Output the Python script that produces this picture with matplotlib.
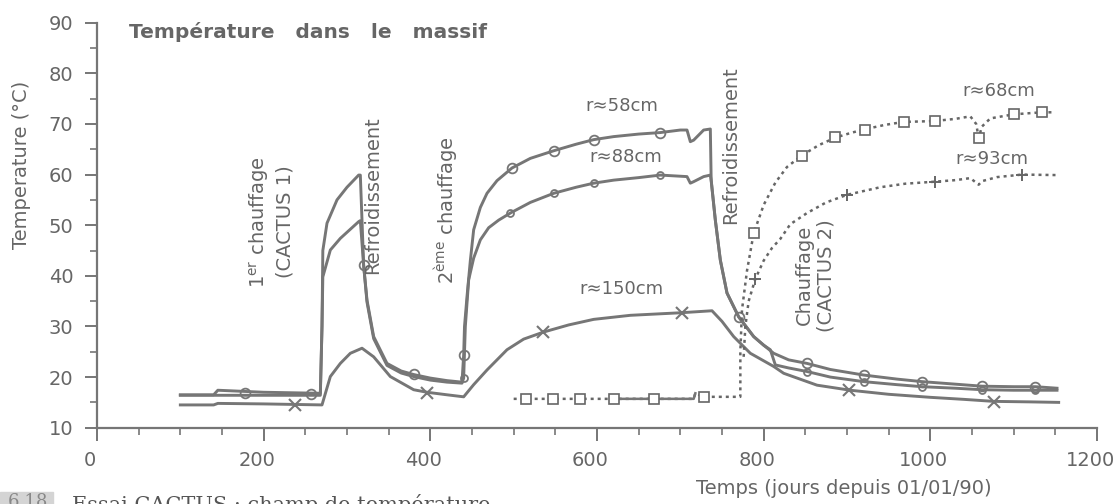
import matplotlib
matplotlib.use("Agg")
from matplotlib import pyplot as plt
from matplotlib.patches import Rectangle
from matplotlib.ticker import MultipleLocator
from matplotlib.transforms import ScaledTranslation

# r~58cm (trait plein, cercles)
r58_x = [100, 140, 145, 200, 268, 270, 271, 276, 288, 300, 314, 316, 320, 324, 332, 348, 365, 380, 400, 420,
         438, 440, 441, 444, 448, 452, 460, 468, 480, 498, 520, 548, 575, 596, 620, 650, 676, 700, 708, 712,
         716, 728, 736, 737, 742, 748, 756, 770, 788, 800, 812, 830, 852, 880, 920, 960, 990, 1030, 1062,
         1100, 1126, 1152]
r58_y = [16.5, 16.5, 17.4, 17.0, 16.8, 30, 45, 50.4, 55, 57.5, 59.9, 59.9, 42.0, 35.2, 28.0, 22.7, 21.2, 20.5,
         19.8, 19.3, 19.0, 24.4, 30, 35.9, 43, 49.1, 53.5, 56.3, 58.8, 61.3, 63.2, 64.7, 66.0, 66.9, 67.5, 68.0,
         68.3, 68.8, 68.8, 66.5, 66.8, 68.8, 69.0, 58.9, 51.0, 43.1, 36.6, 31.9, 28.0, 26.3, 24.7, 23.4, 22.7,
         21.5, 20.4, 19.6, 19.1, 18.6, 18.2, 18.1, 18.1, 17.8]
r58_mx = [178, 257, 320, 380, 440, 498, 548, 596, 676, 770, 852, 920, 990, 1062, 1126]
r58_my = [16.9, 16.7, 42.1, 20.6, 24.4, 61.3, 64.7, 66.9, 68.3, 31.9, 22.7, 20.4, 19.1, 18.2, 18.1]

# r~88cm
r88_x = [100, 268, 270, 271, 280, 292, 314, 316, 320, 324, 332, 348, 365, 380, 400, 420, 438, 440, 442, 446,
         452, 460, 470, 482, 496, 520, 548, 575, 596, 620, 650, 676, 708, 712, 716, 728, 736, 737, 742, 748,
         756, 770, 788, 800, 808, 814, 830, 852, 880, 920, 960, 990, 1030, 1062, 1100, 1152]
r88_y = [16.4, 16.4, 30, 39.8, 45.1, 47.4, 50.7, 50.9, 42.0, 34.8, 27.6, 22.3, 20.8, 20.1, 19.4, 19.0, 18.8,
         19.8, 30, 39.2, 43.5, 47.1, 49.5, 51.0, 52.4, 54.5, 56.3, 57.5, 58.3, 58.9, 59.4, 59.9, 59.6, 58.3,
         58.6, 59.6, 59.9, 58.9, 51.0, 43.1, 36.6, 31.9, 28.0, 26.3, 25.4, 22.4, 21.8, 21.1, 20.0, 19.1, 18.5,
         18.1, 17.8, 17.5, 17.4, 17.4]
r88_mx = [440, 496, 548, 596, 676, 852, 920, 990, 1062, 1126]
r88_my = [19.8, 52.4, 56.3, 58.3, 59.9, 21.1, 19.1, 18.1, 17.5, 17.4]

# r~150cm (croix)
r150_x = [100, 140, 145, 200, 270, 280, 292, 304, 318, 332, 352, 380, 396, 420, 440, 452, 468, 492, 512, 536,
          566, 596, 640, 700, 738, 750, 764, 784, 812, 824, 864, 904, 950, 1000, 1040, 1076, 1120, 1154]
r150_y = [14.5, 14.5, 14.8, 14.7, 14.5, 20.1, 22.7, 24.7, 25.7, 24.0, 20.1, 17.5, 17.0, 16.5, 16.1, 18.5, 21.4,
          25.4, 27.5, 28.9, 30.3, 31.4, 32.2, 32.7, 33.1, 31.0, 28.0, 24.7, 22.1, 20.75, 18.4, 17.4, 16.6, 16.0,
          15.6, 15.2, 15.1, 15.0]
r150_mx = [238, 396, 535, 702, 902, 1076]
r150_my = [14.5, 16.9, 28.9, 32.7, 17.45, 15.1]

# r~68cm (pointille, carres)
r68_x = [500, 515, 547, 580, 620, 668, 716, 718, 728, 772, 772, 774, 780, 788, 800, 814, 828, 846, 866, 886,
         904, 920, 945, 968, 990, 1006, 1030, 1048, 1055, 1058, 1062, 1072, 1100, 1134, 1150]
r68_y = [15.7, 15.7, 15.7, 15.7, 15.7, 15.7, 15.7, 16.8, 16.1, 16.1, 25, 33.3, 41, 48.4, 54, 58.4, 61.5, 63.8,
         65.8, 67.3, 68.2, 68.9, 69.8, 70.4, 70.5, 70.6, 71.0, 71.5, 70.0, 67.3, 69.5, 71.1, 71.9, 72.3, 72.3]
r68_mx = [515, 547, 580, 620, 668, 728, 788, 846, 886, 921, 968, 1006, 1058, 1100, 1134]
r68_my = [15.7, 15.7, 15.7, 15.7, 15.7, 16.0, 48.4, 63.7, 67.4, 68.9, 70.4, 70.6, 67.3, 71.9, 72.3]

# r~93cm (pointille, plus)
r93_x = [776, 778, 782, 790, 800, 810, 820, 832, 852, 875, 900, 940, 970, 1006, 1030, 1048, 1058, 1062, 1080,
         1110, 1152]
r93_y = [24, 30, 35, 39.4, 43, 45.5, 47.3, 50.2, 52.4, 54.5, 56.0, 57.5, 58.2, 58.6, 58.9, 59.3, 58.0, 58.7,
         59.5, 60.0, 59.9]
r93_mx = [790, 900, 1006, 1110]
r93_my = [39.4, 56.0, 58.6, 60.0]

LINE = "#767676"
TXT = "#666666"

fig = plt.figure(figsize=(11.16, 5.04), dpi=100)
ax = fig.add_axes([97 / 1116, 1 - 427.7 / 504, 1000 / 1116, 405 / 504])

ax.plot(r150_x, r150_y, color=LINE, lw=2.1)
ax.plot(r150_mx, r150_my, ls="none", marker="x", ms=8, mew=1.5, color=LINE)
ax.plot(r88_x, r88_y, color=LINE, lw=2.1)
ax.plot(r88_mx, r88_my, ls="none", marker="o", ms=5, mfc="none", mew=1.3, color=LINE)
ax.plot(r58_x, r58_y, color=LINE, lw=2.1)
ax.plot(r58_mx, r58_my, ls="none", marker="o", ms=7, mfc="none", mew=1.3, color=LINE)

dots = (0, (1.2, 1.6))
ax.plot(r68_x, r68_y, color="#666666", lw=1.8, ls=dots)
ax.plot(r68_x[4:8], r68_y[4:8], color=LINE, lw=1.8)
ax.plot(r68_mx, r68_my, ls="none", marker="s", ms=7, mfc="white", mew=1.2, color="#666666")
ax.plot(r93_x, r93_y, color="#666666", lw=1.8, ls=dots)
ax.plot(r93_mx, r93_my, ls="none", marker="+", ms=8, mew=1.4, color="#666666")

ax.set_xlim(0, 1200)
ax.set_ylim(10, 90)
ax.xaxis.set_major_locator(MultipleLocator(200))
ax.xaxis.set_minor_locator(MultipleLocator(50))
ax.yaxis.set_major_locator(MultipleLocator(10))
ax.yaxis.set_minor_locator(MultipleLocator(5))
for s in ["top", "right"]:
    ax.spines[s].set_visible(False)
for s in ["left", "bottom"]:
    ax.spines[s].set_color(LINE)
    ax.spines[s].set_linewidth(1.6)
ax.tick_params(which="major", length=9, width=1.4, color=LINE, labelsize=14, labelcolor=TXT, pad=8)
ax.tick_params(which="minor", length=5, width=1.2, color=LINE)

# les etiquettes de l'axe x sont un peu decalees vers la gauche dans l'original
shift = ScaledTranslation(-7 / 100, 0, fig.dpi_scale_trans)
for lab in ax.get_xticklabels():
    lab.set_transform(lab.get_transform() + shift)

ax.text(38, 88.2, "Température   dans   le   massif", fontsize=14.5, fontweight="bold",
        color=TXT, va="center", ha="left")

tk = dict(rotation=90, color=TXT, fontsize=14, ha="center", va="center", multialignment="center")
ax.text(209, 50.7, "1$^{\\mathrm{er}}$ chauffage\n(CACTUS 1)", **tk)
ax.text(331, 56.0, "Refroidissement", **tk)
ax.text(419, 53.0, "2$^{\\mathrm{ème}}$ chauffage", **tk)
ax.text(760, 65.8, "Refroidissement", **tk)
ax.text(862, 40.1, "Chauffage\n(CACTUS 2)", **tk)

lb = dict(color=TXT, fontsize=13, ha="center", va="center")
ax.text(630, 73.6, "r≈58cm", **lb)
ax.text(634, 63.5, "r≈88cm", **lb)
ax.text(629, 37.4, "r≈150cm", **lb)
ax.text(1082, 76.5, "r≈68cm", **lb)
ax.text(1074, 63.1, "r≈93cm", **lb)

fig.text(22 / 1116, 1 - 165 / 504, "Temperature (°C)", rotation=90, fontsize=14,
         color=TXT, ha="center", va="center")
fig.text(844 / 1116, 1 - 489 / 504, "Temps (jours depuis 01/01/90)", fontsize=14,
         color=TXT, ha="center", va="center")

# legende de la figure (coupee en bas comme sur le scan)
fig.patches.append(Rectangle((0, 0), 53 / 1116, 12 / 504, transform=fig.transFigure,
                             color="#d4d4d4", zorder=0))
fig.text(8 / 1116, 1 - 493 / 504, "6.18", fontsize=13, color="#888888", va="top",
         family="DejaVu Serif")
fig.text(72 / 1116, 1 - 494 / 504, "Essai CACTUS : champ de température", fontsize=15,
         color="#555555", va="top", family="DejaVu Serif")

fig.savefig("out.png", dpi=100)
